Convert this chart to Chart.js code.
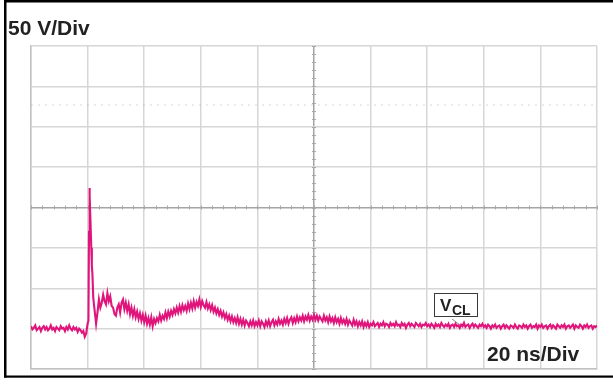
<!DOCTYPE html>
<html>
<head>
<meta charset="utf-8">
<script src="https://cdn.jsdelivr.net/npm/chart.js@4/dist/chart.umd.min.js"></script>
<style>
  html, body { margin: 0; padding: 0; background: #fff; overflow: hidden; }
  #wrap { position: relative; width: 613px; height: 387px; overflow: hidden; }
  canvas { position: absolute; left: 0; top: 0; }
  .lbl { position: absolute; font-family: "Liberation Sans", Arial, sans-serif; font-weight: bold; color: #222; white-space: nowrap; line-height: 1; }
  #vdiv { left: 8px; top: 17px; font-size: 21px; }
  #tdiv { left: 487px; top: 343px; font-size: 21px; }
  #vcl { position: absolute; left: 434px; top: 293px; width: 42px; height: 22px; border: 1.5px solid #3a3a3a; background: #fff;
         font-family: "Liberation Sans", Arial, sans-serif; font-weight: bold; color: #222; line-height: 1; }
  #vcl span.v { position: absolute; left: 5px; top: 3px; font-size: 17px; }
  #vcl span.s { position: absolute; left: 17px; top: 9px; font-size: 14px; }
</style>
</head>
<body>
<div id="wrap">
  <canvas id="c" width="613" height="387"></canvas>
  <div class="lbl" id="vdiv">50 V/Div</div>
  <div class="lbl" id="tdiv">20 ns/Div</div>
  <div id="vcl"><span class="v">V</span><span class="s">CL</span></div>
</div>
<script>
// Screen: 20 ns per horizontal division, 50 V per vertical division
const timeRangeNs = [0, 200];
const voltRangeV = [0, 400];
const timeStepNs = 20;
const voltStepV = 50;

// Clamp-voltage trace, one sample every 0.5 ns (t = 0 .. 200 ns)
const sampleStepNs = 0.5;
const traceV = [
  53, 49, 51, 54, 48, 50, 52, 47, 51, 53, 49, 52, 48, 50, 54, 49, 51, 47, 52, 50,
  48, 53, 50, 51, 47, 52, 49, 54, 50, 48, 52, 49, 51, 46, 50, 48, 45, 47, 40, 44,
  56, 170, 185, 128, 88, 72, 56, 70, 86, 76, 82, 92, 84, 80, 94, 84, 90, 78, 76, 68,
  66, 76, 80, 70, 82, 86, 74, 82, 72, 80, 68, 76, 66, 74, 64, 71, 62, 69, 60, 67,
  58, 66, 56, 63, 55, 64, 53, 62, 57, 63, 59, 67, 60, 66, 62, 70, 63, 71, 65, 72,
  67, 74, 69, 76, 70, 78, 71, 79, 73, 78, 72, 81, 74, 82, 75, 84, 76, 83, 78, 86,
  77, 84, 79, 76, 83, 75, 80, 73, 79, 71, 76, 69, 74, 67, 72, 65, 70, 63, 68, 61,
  66, 59, 65, 58, 63, 57, 64, 56, 62, 55, 61, 54, 60, 57, 53, 59, 54, 60, 53, 58,
  54, 60, 53, 59, 56, 52, 59, 54, 60, 53, 58, 61, 54, 59, 55, 62, 56, 60, 55, 62,
  57, 63, 56, 61, 64, 57, 63, 58, 65, 59, 64, 60, 66, 59, 65, 61, 67, 60, 65, 61,
  67, 61, 66, 60, 65, 62, 59, 66, 60, 64, 58, 65, 59, 63, 57, 64, 58, 62, 56, 63,
  57, 61, 56, 62, 55, 60, 57, 54, 61, 55, 59, 53, 58, 54, 59, 52, 57, 53, 58, 52,
  56, 54, 58, 53, 55, 57, 52, 56, 54, 58, 53, 56, 55, 52, 57, 54, 56, 53, 58, 54,
  55, 52, 57, 54, 56, 51, 55, 57, 53, 56, 54, 52, 57, 55, 53, 56, 52, 55, 54, 57,
  53, 55, 52, 56, 54, 51, 56, 53, 55, 52, 57, 54, 52, 55, 53, 56, 51, 54, 55, 52,
  56, 53, 54, 51, 55, 53, 57, 52, 54, 55, 51, 54, 56, 52, 55, 53, 51, 55, 53, 56,
  52, 54, 51, 55, 53, 50, 54, 52, 55, 51, 53, 54, 50, 53, 55, 51, 54, 52, 50, 54,
  53, 51, 55, 52, 50, 54, 53, 51, 55, 52, 54, 50, 53, 55, 51, 53, 52, 55, 50, 54,
  52, 55, 51, 53, 54, 50, 53, 55, 51, 54, 52, 50, 55, 53, 51, 54, 52, 55, 50, 53,
  54, 51, 53, 55, 50, 54, 52, 51, 55, 53, 50, 54, 52, 55, 51, 53, 54, 50, 53, 52,
  54
];

// Extra samples across the fast turn-off transient
const edgeTimeNs = [20.3, 20.65, 20.8, 21.3, 21.7];
const edgeV = [60, 224, 214, 150, 118];

const points = traceV.map((v, i) => ({ x: i * sampleStepNs, y: v }))
  .concat(edgeTimeNs.map((t, i) => ({ x: t, y: edgeV[i] })))
  .sort((a, b) => a.x - b.x);

const centerT = (timeRangeNs[0] + timeRangeNs[1]) / 2;
const centerV = (voltRangeV[0] + voltRangeV[1]) / 2;

// Oscilloscope graticule extras: frame, centre-axis minor ticks, faint marker row
const scopeDecor = {
  id: 'scopeDecor',
  beforeDraw(chart) {
    const ctx = chart.ctx;
    ctx.save();
    ctx.fillStyle = '#fff';
    ctx.fillRect(0, 0, chart.width, chart.height);
    ctx.fillStyle = '#000';
    ctx.fillRect(4, 0, chart.width, 2.5);      // top edge
    ctx.fillRect(4, 0, 2.5, 377.5);            // left edge
    ctx.fillRect(4, 375.5, chart.width, 2.2);  // bottom edge
    ctx.restore();
  },
  beforeDatasetsDraw(chart) {
    const { ctx, scales: { x, y }, chartArea: a } = chart;
    ctx.save();
    const cx = x.getPixelForValue(centerT);
    const cy = y.getPixelForValue(centerV);
    ctx.strokeStyle = '#a8a8a8';
    ctx.lineWidth = 1;
    ctx.beginPath();
    for (let t = timeRangeNs[0]; t <= timeRangeNs[1]; t += timeStepNs / 5) {
      const px = Math.round(x.getPixelForValue(t)) + 0.5;
      ctx.moveTo(px, cy - 2); ctx.lineTo(px, cy + 2);
    }
    for (let v = voltRangeV[0]; v <= voltRangeV[1]; v += voltStepV / 5) {
      const py = Math.round(y.getPixelForValue(v)) + 0.5;
      ctx.moveTo(cx - 2, py); ctx.lineTo(cx + 2, py);
    }
    ctx.stroke();
    ctx.strokeStyle = 'rgba(180,180,180,0.35)';
    ctx.setLineDash([2, 5]);
    ctx.lineWidth = 1.5;
    ctx.beginPath();
    const py = y.getPixelForValue(327);
    ctx.moveTo(a.left, py); ctx.lineTo(a.right, py);
    ctx.stroke();
    ctx.setLineDash([]);
    // leader from the V_CL tag to the trace
    ctx.strokeStyle = '#8a8a8a';
    ctx.lineWidth = 1;
    ctx.beginPath();
    ctx.moveTo(452, 319); ctx.lineTo(460, 325);
    ctx.stroke();
    ctx.restore();
  }
};

const gridColor = (ctxArg, centre) =>
  ctxArg.tick && ctxArg.tick.value === centre ? '#a4a4a4' : '#d6d6d6';

new Chart(document.getElementById('c'), {
  type: 'scatter',
  data: {
    datasets: [{
      data: points,
      showLine: true,
      borderColor: '#e0157c',
      borderWidth: 2.1,
      pointRadius: 0,
      tension: 0
    }]
  },
  options: {
    responsive: false,
    animation: false,
    layout: { padding: { left: 31, top: 46, right: 16, bottom: 18 } },
    plugins: { legend: { display: false }, tooltip: { enabled: false } },
    scales: {
      x: {
        type: 'linear', min: timeRangeNs[0], max: timeRangeNs[1],
        ticks: { display: false, stepSize: timeStepNs },
        grid: { color: c => gridColor(c, centerT), lineWidth: 1.5, drawTicks: false },
        border: { display: true, color: '#c2c2c2', width: 1.5 }
      },
      y: {
        type: 'linear', min: voltRangeV[0], max: voltRangeV[1],
        ticks: { display: false, stepSize: voltStepV },
        grid: { color: c => gridColor(c, centerV), lineWidth: 1.5, drawTicks: false },
        border: { display: true, color: '#c2c2c2', width: 1.5 }
      }
    }
  },
  plugins: [scopeDecor]
});
</script>
</body>
</html>
